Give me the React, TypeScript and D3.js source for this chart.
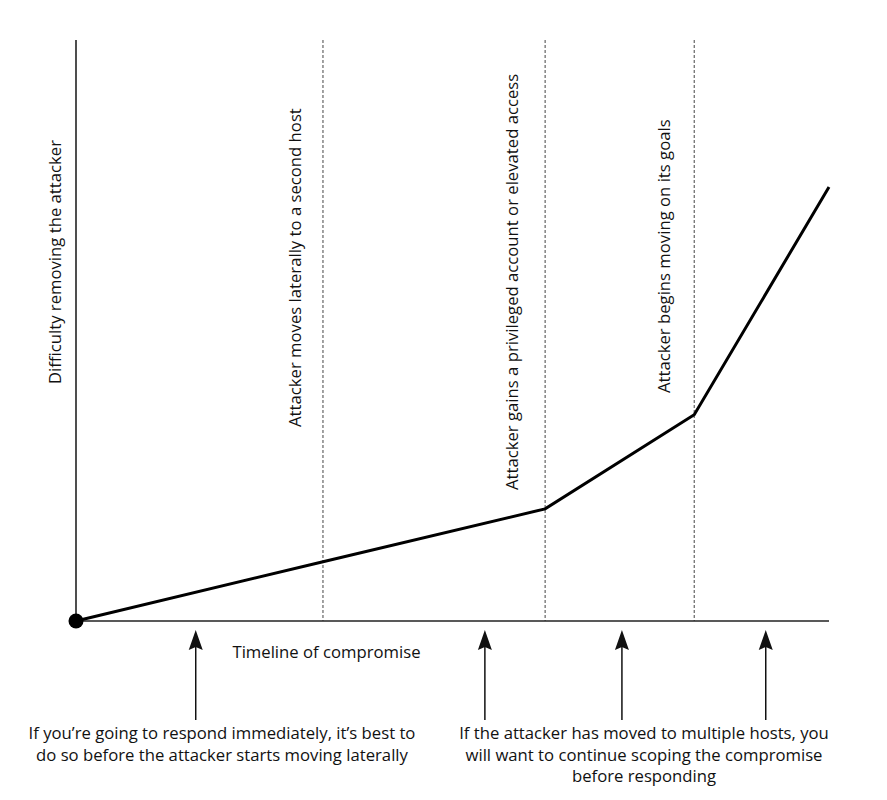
import React from 'react';
import * as d3 from 'd3';

// timeline positions (0..10) and difficulty values (0..10)
const curveTime = [0, 3.28, 6.23, 8.21, 10];
const curveDifficulty = [0, 1.02, 1.93, 3.55, 7.47];

const eventTime = [3.28, 6.23, 8.21];
const eventLabels = [
  'Attacker moves laterally to a second host',
  'Attacker gains a privileged account or elevated access',
  'Attacker begins moving on its goals',
];
// where each rotated label starts (bottom end), in difficulty units
const eventLabelStart = [3.34, 2.255, 3.924];
const eventLabelShift = [-22, -27, -24];

const arrowTime = [1.59, 5.43, 7.25, 9.16];

const leftNote = [
  'If you\u2019re going to respond immediately, it\u2019s best to',
  'do so before the attacker starts moving laterally',
];
const rightNote = [
  'If the attacker has moved to multiple hosts, you',
  'will want to continue scoping the compromise',
  'before responding',
];

const W = 887;
const H = 800;
const FONT = '"Open Sans", "Noto Sans", sans-serif';
const FS = 16.7;

const App = () => {
  const x = d3.scaleLinear().domain([0, 10]).range([76, 829]);
  const y = d3.scaleLinear().domain([0, 10]).range([621, 40]);

  const line = d3.line<number>()
    .x((d, i) => x(curveTime[i]))
    .y(d => y(d));

  const arrowTop = 630;
  const arrowBottom = 720;

  return (
    <svg width={W} height={H} style={{ position: 'absolute', left: 0, top: 0, background: '#fff' }}>
      {/* dashed event lines */}
      {eventTime.map((t, i) => (
        <line key={'e' + i} x1={x(t)} x2={x(t)} y1={y(10)} y2={y(0)}
          stroke="#444" strokeWidth={1} strokeDasharray="3,2" />
      ))}
      {/* axes */}
      <line x1={x(0)} x2={x(0)} y1={y(10)} y2={y(0)} stroke="#222" strokeWidth={1.6} />
      <line x1={x(0)} x2={x(10)} y1={y(0)} y2={y(0)} stroke="#222" strokeWidth={1.6} />

      {/* difficulty curve */}
      <path d={line(curveDifficulty) || ''} fill="none" stroke="#000" strokeWidth={3} strokeLinejoin="miter" />
      <circle cx={x(0)} cy={y(0)} r={7.5} fill="#000" />

      {/* axis titles */}
      <text transform={`translate(61,262) rotate(-90)`} textAnchor="middle" fontFamily={FONT} fontSize={FS} fill="#111">
        Difficulty removing the attacker
      </text>
      <text x={326.5} y={658} textAnchor="middle" fontFamily={FONT} fontSize={FS} fill="#111">
        Timeline of compromise
      </text>

      {/* event labels */}
      {eventLabels.map((s, i) => (
        <text key={'l' + i} transform={`translate(${x(eventTime[i]) + eventLabelShift[i]},${y(eventLabelStart[i])}) rotate(-90)`}
          fontFamily={FONT} fontSize={FS} fill="#111">
          {s}
        </text>
      ))}

      {/* arrows */}
      {arrowTime.map((t, i) => (
        <g key={'a' + i}>
          <line x1={x(t)} x2={x(t)} y1={arrowTop + 12} y2={arrowBottom} stroke="#111" strokeWidth={1.5} />
          <path d={`M${x(t)},${arrowTop} L${x(t) + 7},${arrowTop + 20} L${x(t)},${arrowTop + 17} L${x(t) - 7},${arrowTop + 20} Z`} fill="#111" />
        </g>
      ))}

      {/* notes */}
      <text textAnchor="middle" fontFamily={FONT} fontSize={FS} fill="#111">
        {leftNote.map((s, i) => (
          <tspan key={i} x={222} y={739 + i * 21.6}>{s}</tspan>
        ))}
      </text>
      <text textAnchor="middle" fontFamily={FONT} fontSize={FS} fill="#111">
        {rightNote.map((s, i) => (
          <tspan key={i} x={644} y={739 + i * 21.6}>{s}</tspan>
        ))}
      </text>
    </svg>
  );
};

export default App;
